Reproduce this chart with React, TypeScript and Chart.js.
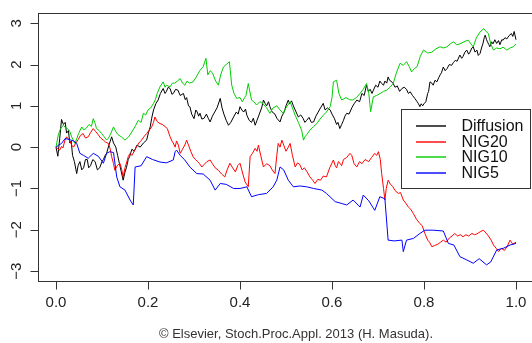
import { useEffect, useRef } from "react";
import { Chart, registerables } from "chart.js";

Chart.register(...registerables);

const FONT = '"Liberation Sans", Arial, Helvetica, sans-serif';

// ---- tick values ----
const xTicks = [0, 0.2, 0.4, 0.6, 0.8, 1.0];
const xTickLabels = ["0.0", "0.2", "0.4", "0.6", "0.8", "1.0"];
const yTicks = [-3, -2, -1, 0, 1, 2, 3];
const yTickLabels = ["\u22123", "\u22122", "\u22121", "0", "1", "2", "3"];

// ---- series (time, value) ----
const diffusionT = [0, 0.004, 0.008, 0.012, 0.016, 0.02, 0.023, 0.027, 0.03, 0.033, 0.036, 0.04, 0.045, 0.048, 0.052, 0.056, 0.06, 0.064, 0.068, 0.071, 0.075, 0.08, 0.085, 0.09, 0.095, 0.1, 0.103, 0.107, 0.11, 0.115, 0.121, 0.125, 0.13, 0.134, 0.138, 0.142, 0.146, 0.15, 0.153, 0.157, 0.16, 0.165, 0.17, 0.176, 0.183, 0.19, 0.197, 0.201, 0.205, 0.208, 0.212, 0.217, 0.222, 0.227, 0.233, 0.237, 0.24, 0.244, 0.248, 0.252, 0.255, 0.26, 0.265, 0.27, 0.277, 0.281, 0.284, 0.288, 0.291, 0.295, 0.3, 0.304, 0.307, 0.31, 0.313, 0.317, 0.322, 0.327, 0.331, 0.335, 0.34, 0.345, 0.35, 0.357, 0.361, 0.365, 0.37, 0.375, 0.38, 0.387, 0.392, 0.396, 0.4, 0.404, 0.408, 0.412, 0.415, 0.42, 0.425, 0.429, 0.433, 0.437, 0.442, 0.447, 0.451, 0.455, 0.458, 0.462, 0.465, 0.47, 0.476, 0.48, 0.487, 0.491, 0.496, 0.5, 0.505, 0.508, 0.512, 0.516, 0.52, 0.524, 0.527, 0.532, 0.537, 0.541, 0.545, 0.55, 0.555, 0.56, 0.565, 0.57, 0.575, 0.581, 0.585, 0.59, 0.596, 0.6, 0.605, 0.61, 0.613, 0.617, 0.621, 0.625, 0.628, 0.632, 0.637, 0.643, 0.648, 0.654, 0.66, 0.665, 0.67, 0.675, 0.679, 0.683, 0.687, 0.69, 0.695, 0.7, 0.704, 0.708, 0.712, 0.715, 0.719, 0.722, 0.725, 0.728, 0.733, 0.737, 0.742, 0.747, 0.752, 0.757, 0.762, 0.766, 0.77, 0.775, 0.78, 0.785, 0.788, 0.791, 0.794, 0.797, 0.8, 0.804, 0.808, 0.81, 0.813, 0.817, 0.82, 0.824, 0.828, 0.832, 0.835, 0.838, 0.842, 0.846, 0.85, 0.855, 0.86, 0.864, 0.868, 0.872, 0.878, 0.882, 0.885, 0.889, 0.893, 0.897, 0.9, 0.904, 0.907, 0.911, 0.915, 0.918, 0.922, 0.925, 0.928, 0.931, 0.933, 0.936, 0.938, 0.941, 0.943, 0.947, 0.95, 0.954, 0.958, 0.962, 0.965, 0.969, 0.972, 0.976, 0.98, 0.985, 0.99, 0.993, 0.996, 1.0];
const diffusionV = [0, -0.22, 0.2, 0.67, 0.55, 0.6, 0.34, 0.4, 0.1, 0.15, -0.2, -0.35, -0.64, -0.45, -0.35, -0.55, -0.5, -0.3, -0.3, -0.5, -0.45, -0.3, -0.35, -0.55, -0.5, -0.35, -0.3, -0.2, -0.15, 0.05, 0.25, 0.1, 0.0, -0.2, -0.4, -0.6, -0.8, -0.6, -0.5, -0.3, -0.23, -0.05, -0.1, 0.05, 0.0, 0.1, 0.17, 0.35, 0.5, 0.7, 0.9, 1.05, 1.14, 1.3, 1.42, 1.3, 1.35, 1.45, 1.42, 1.28, 1.3, 1.4, 1.38, 1.25, 1.3, 1.15, 1.2, 1.0, 0.98, 0.8, 0.69, 0.9, 0.85, 0.75, 0.82, 0.68, 0.7, 0.8, 0.7, 0.61, 0.75, 0.85, 0.95, 1.18, 0.95, 0.8, 0.65, 0.53, 0.6, 0.75, 0.85, 0.8, 0.98, 0.9, 0.85, 0.92, 0.77, 0.65, 0.6, 0.7, 0.53, 0.65, 0.8, 0.95, 1.14, 1.05, 1.0, 1.1, 0.98, 0.85, 0.8, 0.7, 0.61, 0.75, 0.85, 1.0, 1.14, 1.05, 1.12, 1.0, 0.9, 0.8, 0.73, 0.78, 0.7, 0.6, 0.65, 0.72, 0.6, 0.61, 0.75, 0.85, 0.95, 1.06, 0.9, 0.95, 0.9, 0.8, 0.7, 0.55, 0.6, 0.45, 0.55, 0.65, 0.75, 0.82, 0.8, 0.95, 1.05, 1.14, 1.1, 1.3, 1.25, 1.5, 1.35, 1.4, 1.3, 1.38, 1.5, 1.45, 1.6, 1.54, 1.5, 1.6, 1.55, 1.7, 1.62, 1.6, 1.54, 1.45, 1.48, 1.35, 1.42, 1.45, 1.4, 1.3, 1.34, 1.25, 1.18, 1.1, 1.05, 0.98, 1.05, 1.0, 1.05, 1.1, 1.3, 1.35, 1.58, 1.55, 1.5, 1.62, 1.58, 1.68, 1.75, 1.8, 1.94, 1.85, 1.9, 2.0, 1.98, 2.05, 2.1, 2.08, 2.23, 2.15, 2.2, 2.3, 2.35, 2.25, 2.3, 2.4, 2.43, 2.3, 2.35, 2.22, 2.27, 2.4, 2.5, 2.65, 2.71, 2.6, 2.55, 2.48, 2.43, 2.55, 2.5, 2.6, 2.51, 2.58, 2.48, 2.6, 2.59, 2.65, 2.62, 2.7, 2.75, 2.68, 2.8, 2.6];

const nig20T = [0, 0.004, 0.008, 0.012, 0.015, 0.019, 0.023, 0.027, 0.03, 0.034, 0.038, 0.043, 0.048, 0.053, 0.059, 0.064, 0.07, 0.075, 0.081, 0.086, 0.092, 0.097, 0.103, 0.108, 0.114, 0.118, 0.121, 0.125, 0.128, 0.133, 0.139, 0.143, 0.146, 0.15, 0.154, 0.157, 0.161, 0.165, 0.17, 0.175, 0.18, 0.186, 0.191, 0.197, 0.202, 0.208, 0.212, 0.215, 0.22, 0.226, 0.231, 0.237, 0.242, 0.248, 0.252, 0.255, 0.259, 0.262, 0.266, 0.27, 0.275, 0.28, 0.284, 0.288, 0.293, 0.298, 0.303, 0.308, 0.312, 0.317, 0.322, 0.328, 0.335, 0.34, 0.346, 0.353, 0.36, 0.367, 0.372, 0.378, 0.384, 0.39, 0.395, 0.4, 0.405, 0.411, 0.418, 0.422, 0.427, 0.433, 0.437, 0.44, 0.445, 0.451, 0.458, 0.465, 0.47, 0.476, 0.48, 0.483, 0.487, 0.491, 0.495, 0.5, 0.505, 0.509, 0.514, 0.52, 0.525, 0.53, 0.535, 0.54, 0.546, 0.552, 0.558, 0.563, 0.569, 0.575, 0.581, 0.588, 0.595, 0.603, 0.607, 0.61, 0.614, 0.617, 0.621, 0.625, 0.632, 0.639, 0.643, 0.648, 0.654, 0.66, 0.665, 0.672, 0.68, 0.686, 0.693, 0.697, 0.701, 0.705, 0.708, 0.712, 0.715, 0.718, 0.722, 0.727, 0.732, 0.737, 0.744, 0.749, 0.755, 0.76, 0.766, 0.771, 0.777, 0.784, 0.791, 0.796, 0.802, 0.808, 0.812, 0.817, 0.823, 0.83, 0.836, 0.842, 0.848, 0.855, 0.861, 0.867, 0.873, 0.879, 0.885, 0.891, 0.897, 0.904, 0.91, 0.915, 0.922, 0.929, 0.935, 0.94, 0.946, 0.951, 0.957, 0.962, 0.968, 0.975, 0.981, 0.987, 0.993, 1.0];
const nig20V = [0, -0.05, -0.07, 0.02, -0.02, 0.15, 0.25, 0.2, 0.15, 0.05, 0.0, 0.1, 0.18, 0.28, 0.33, 0.22, 0.25, 0.35, 0.45, 0.38, 0.3, 0.22, 0.17, 0.12, 0.09, -0.05, -0.23, -0.4, -0.56, -0.45, -0.39, -0.55, -0.72, -0.5, -0.35, -0.23, -0.15, -0.2, -0.1, 0.0, 0.1, 0.17, 0.25, 0.33, 0.4, 0.49, 0.6, 0.73, 0.62, 0.57, 0.55, 0.5, 0.45, 0.25, 0.15, 0.1, 0.0, 0.15, 0.05, -0.15, -0.05, 0.05, 0.17, 0.05, -0.1, -0.23, -0.3, -0.35, -0.4, -0.48, -0.42, -0.35, -0.31, -0.4, -0.5, -0.56, -0.65, -0.72, -0.55, -0.39, -0.5, -0.6, -0.45, -0.39, -0.6, -0.84, -0.96, -0.23, -0.15, -0.03, -0.1, 0.05, -0.2, -0.48, -0.4, -0.45, -0.55, -0.64, -0.2, 0.09, 0.0, 0.17, 0.05, -0.1, 0.0, 0.09, -0.2, -0.48, -0.38, -0.42, -0.55, -0.5, -0.6, -0.72, -0.8, -0.88, -0.78, -0.8, -0.7, -0.72, -0.5, -0.31, -0.45, -0.5, -0.35, -0.39, -0.45, -0.3, -0.25, -0.15, -0.2, -0.4, -0.48, -0.35, -0.4, -0.3, -0.35, -0.25, -0.15, -0.2, -0.11, -0.3, -0.64, -1.0, -1.28, -1.0, -0.8, -0.9, -0.95, -1.05, -1.12, -1.1, -1.28, -1.35, -1.45, -1.5, -1.61, -1.75, -1.85, -1.9, -2.09, -2.25, -2.3, -2.41, -2.38, -2.35, -2.3, -2.25, -2.3, -2.2, -2.15, -2.09, -2.15, -2.12, -2.17, -2.12, -2.15, -2.09, -2.12, -2.1, -2.05, -2.01, -2.08, -2.15, -2.25, -2.37, -2.45, -2.53, -2.45, -2.5, -2.4, -2.25, -2.35, -2.3];

const nig10T = [0, 0.005, 0.01, 0.016, 0.02, 0.025, 0.03, 0.034, 0.041, 0.045, 0.049, 0.056, 0.06, 0.065, 0.072, 0.077, 0.081, 0.085, 0.088, 0.094, 0.099, 0.105, 0.11, 0.114, 0.118, 0.125, 0.13, 0.135, 0.142, 0.15, 0.158, 0.165, 0.172, 0.179, 0.185, 0.19, 0.195, 0.2, 0.206, 0.212, 0.216, 0.22, 0.226, 0.233, 0.237, 0.24, 0.248, 0.253, 0.258, 0.264, 0.27, 0.275, 0.28, 0.285, 0.29, 0.298, 0.305, 0.313, 0.32, 0.326, 0.33, 0.335, 0.34, 0.347, 0.353, 0.358, 0.364, 0.37, 0.377, 0.382, 0.387, 0.393, 0.4, 0.405, 0.41, 0.413, 0.418, 0.425, 0.43, 0.436, 0.443, 0.45, 0.458, 0.465, 0.472, 0.48, 0.487, 0.494, 0.5, 0.509, 0.514, 0.52, 0.527, 0.534, 0.538, 0.541, 0.545, 0.552, 0.56, 0.567, 0.574, 0.581, 0.588, 0.596, 0.6, 0.603, 0.61, 0.615, 0.621, 0.63, 0.638, 0.645, 0.653, 0.661, 0.668, 0.675, 0.68, 0.684, 0.69, 0.697, 0.705, 0.712, 0.719, 0.726, 0.733, 0.74, 0.748, 0.755, 0.762, 0.768, 0.773, 0.779, 0.785, 0.792, 0.799, 0.808, 0.817, 0.826, 0.835, 0.842, 0.85, 0.857, 0.864, 0.871, 0.878, 0.887, 0.896, 0.902, 0.907, 0.914, 0.922, 0.93, 0.935, 0.94, 0.945, 0.951, 0.958, 0.965, 0.972, 0.98, 0.987, 0.994, 1.0];
const nig10V = [0, 0.3, 0.45, 0.53, 0.48, 0.45, 0.38, 0.25, 0.09, 0.2, 0.33, 0.49, 0.42, 0.45, 0.55, 0.5, 0.69, 0.58, 0.45, 0.4, 0.33, 0.25, 0.17, 0.22, 0.3, 0.49, 0.38, 0.3, 0.25, 0.17, 0.25, 0.37, 0.5, 0.65, 0.6, 0.82, 0.78, 0.9, 0.95, 1.06, 1.15, 1.3, 1.46, 1.58, 1.45, 1.5, 1.46, 1.55, 1.55, 1.6, 1.66, 1.55, 1.5, 1.6, 1.55, 1.58, 1.7, 1.86, 1.95, 2.15, 1.75, 1.85, 1.8, 1.6, 1.5, 1.75, 1.94, 2.0, 2.07, 1.5, 1.3, 1.18, 1.2, 1.1, 1.2, 1.25, 1.54, 1.14, 1.1, 1.02, 1.1, 1.05, 0.95, 0.82, 0.95, 1.0, 0.9, 0.82, 0.95, 1.1, 0.95, 0.77, 0.6, 0.41, 0.17, 0.25, 0.3, 0.41, 0.5, 0.57, 0.68, 0.77, 0.85, 0.98, 1.2, 1.58, 1.62, 1.3, 1.14, 1.2, 1.15, 1.14, 1.2, 1.3, 1.4, 1.54, 1.3, 0.86, 1.22, 1.25, 1.3, 1.35, 1.38, 1.45, 1.54, 1.8, 2.03, 1.98, 2.07, 1.95, 1.82, 1.9, 1.95, 2.2, 2.35, 2.28, 2.3, 2.38, 2.43, 2.4, 2.43, 2.5, 2.55, 2.48, 2.5, 2.55, 2.59, 2.5, 2.43, 2.65, 2.79, 2.87, 2.8, 2.75, 2.5, 2.35, 2.4, 2.38, 2.42, 2.35, 2.4, 2.43, 2.5];

const nig5T = [0, 0.006, 0.012, 0.02, 0.03, 0.038, 0.045, 0.052, 0.06, 0.07, 0.081, 0.092, 0.103, 0.11, 0.117, 0.125, 0.132, 0.139, 0.15, 0.161, 0.168, 0.172, 0.185, 0.197, 0.21, 0.226, 0.24, 0.255, 0.259, 0.262, 0.27, 0.28, 0.291, 0.306, 0.32, 0.335, 0.346, 0.357, 0.37, 0.386, 0.4, 0.415, 0.425, 0.44, 0.458, 0.472, 0.48, 0.487, 0.495, 0.505, 0.516, 0.53, 0.545, 0.56, 0.578, 0.588, 0.607, 0.62, 0.632, 0.646, 0.661, 0.668, 0.68, 0.693, 0.704, 0.715, 0.722, 0.735, 0.752, 0.755, 0.762, 0.777, 0.791, 0.802, 0.82, 0.842, 0.853, 0.865, 0.878, 0.893, 0.907, 0.92, 0.936, 0.945, 0.958, 0.972, 0.987, 1.0];
const nig5V = [0, 0.05, 0.09, 0.21, 0.18, 0.15, 0.09, -0.15, -0.2, -0.27, -0.15, -0.22, -0.39, -0.15, -0.11, -0.13, -0.72, -0.96, -1.04, -1.28, -1.4, -0.48, -0.45, -0.23, -0.3, -0.36, -0.38, -0.31, -0.11, -0.07, -0.2, -0.31, -0.48, -0.64, -0.65, -0.8, -1.04, -0.88, -0.9, -1.0, -1.0, -0.96, -1.2, -1.15, -1.12, -0.96, -0.8, -0.48, -0.55, -0.8, -0.96, -0.94, -0.96, -1.0, -1.04, -1.12, -1.32, -1.36, -1.4, -1.28, -1.45, -1.16, -1.3, -1.53, -1.2, -1.25, -2.25, -2.27, -2.25, -2.53, -2.25, -2.21, -2.09, -2.01, -2.01, -2.03, -2.33, -2.37, -2.65, -2.73, -2.81, -2.7, -2.85, -2.78, -2.49, -2.45, -2.37, -2.33];

const seriesNames = ["Diffusion", "NIG20", "NIG10", "NIG5"];
const seriesColors = ["#000000", "#ff0000", "#00cd00", "#0000ff"];
const seriesT = [diffusionT, nig20T, nig10T, nig5T];
const seriesV = [diffusionV, nig20V, nig10V, nig5V];

const caption = "\u00a9 Elsevier, Stoch.Proc.Appl. 2013 (H. Masuda).";

const rPlugin = {
  id: "rStyle",
  afterDraw(chart: any) {
    const { ctx, chartArea: a, scales } = chart;
    const xs = scales.x;
    const ys = scales.y;
    ctx.save();
    const L = Math.round(a.left) + 0.5;
    const T = Math.round(a.top) + 0.5;
    const B = Math.round(a.bottom) + 0.5;
    const R = Math.round(a.right) + 0.5;
    ctx.strokeStyle = "#333";
    ctx.lineWidth = 1;
    ctx.strokeRect(L, T, R - L, B - T);

    ctx.fillStyle = "#222";
    ctx.font = `15px ${FONT}`;
    // y axis
    yTicks.forEach((v, i) => {
      const py = Math.round(ys.getPixelForValue(v)) + 0.5;
      ctx.beginPath();
      ctx.moveTo(L - 8, py);
      ctx.lineTo(L, py);
      ctx.stroke();
      ctx.save();
      ctx.translate(17, ys.getPixelForValue(v));
      ctx.rotate(-Math.PI / 2);
      ctx.textAlign = "center";
      ctx.textBaseline = "middle";
      ctx.fillText(yTickLabels[i], 0, 0);
      ctx.restore();
    });
    // x axis
    xTicks.forEach((v, i) => {
      const px = Math.round(xs.getPixelForValue(v)) + 0.5;
      ctx.beginPath();
      ctx.moveTo(px, B);
      ctx.lineTo(px, B + 8);
      ctx.stroke();
      ctx.textAlign = "center";
      ctx.textBaseline = "middle";
      ctx.fillText(xTickLabels[i], xs.getPixelForValue(v), 303);
    });

    // legend
    const lx = 401.5, ly = 109.5, lw = 129, lh = 79;
    ctx.fillStyle = "#fff";
    ctx.fillRect(lx, ly, lw, lh);
    ctx.strokeStyle = "#333";
    ctx.strokeRect(lx, ly, lw, lh);
    ctx.font = `16px ${FONT}`;
    ctx.textAlign = "left";
    ctx.textBaseline = "middle";
    seriesNames.forEach((name, i) => {
      const ry = 126 + i * 15.7;
      ctx.save();
      ctx.strokeStyle = seriesColors[i];
      ctx.lineWidth = 1.4;
      ctx.beginPath();
      ctx.moveTo(416, Math.round(ry));
      ctx.lineTo(446, Math.round(ry));
      ctx.stroke();
      ctx.restore();
      ctx.fillStyle = "#111";
      ctx.fillText(name, 461.5, ry + 0.5);
    });

    // caption
    ctx.font = `13px ${FONT}`;
    ctx.fillStyle = "#333";
    ctx.textAlign = "center";
    ctx.fillText(caption, 296, 334);
    ctx.restore();
  },
};

export default function App() {
  const ref = useRef<HTMLCanvasElement | null>(null);
  useEffect(() => {
    if (!ref.current) return;
    const datasets = seriesNames.map((name, i) => ({
      label: name,
      data: seriesT[i].map((t, j) => ({ x: t, y: seriesV[i][j] })),
      borderColor: seriesColors[i],
      borderWidth: 1,
      pointRadius: 0,
      tension: 0,
      fill: false,
      order: 4 - i,
    }));
    const chart = new Chart(ref.current, {
      type: "line",
      data: { datasets },
      options: {
        animation: false,
        responsive: false,
        devicePixelRatio: 1,
        layout: { padding: { left: 37.6, right: 5.6, top: 13.3, bottom: 62 } },
        plugins: { legend: { display: false }, tooltip: { enabled: false } },
        scales: {
          x: { type: "linear", min: -0.04, max: 1.04, display: false },
          y: { type: "linear", min: -3.24, max: 3.24, display: false },
        },
      },
      plugins: [rPlugin],
    });
    return () => chart.destroy();
  }, []);
  return (
    <div style={{ position: "fixed", left: 0, top: 0, width: 532, height: 343, overflow: "hidden", background: "#fff" }}>
      <canvas ref={ref} width={540} height={343} style={{ width: 540, height: 343, display: "block" }} />
    </div>
  );
}
